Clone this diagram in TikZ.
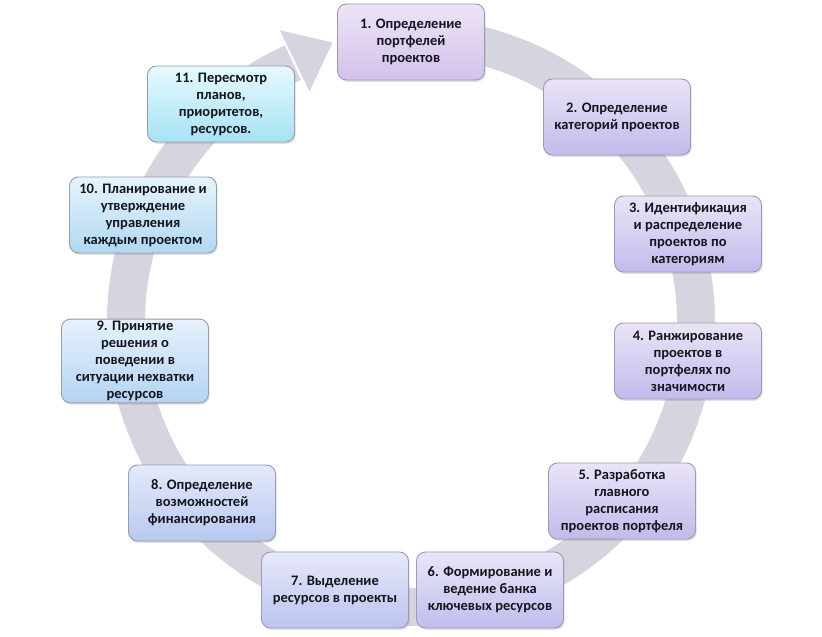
\documentclass[tikz,border=0pt]{standalone}
\usepackage{fontspec}
\setmainfont{Carlito}
\usetikzlibrary{calc,shadows}
\definecolor{ringgray}{HTML}{D6D4DF}
\definecolor{boxline}{HTML}{9C9AAE}
\definecolor{txt}{HTML}{15151E}
\definecolor{t1}{HTML}{EEE4F6}\definecolor{b1}{HTML}{D2C2EA}
\definecolor{tp}{HTML}{EAE4F7}\definecolor{bp}{HTML}{C4BAEC}
\definecolor{t6}{HTML}{E8E6F8}\definecolor{b6}{HTML}{C0BEEE}
\definecolor{t7}{HTML}{E6E8FA}\definecolor{b7}{HTML}{BCC4F0}
\definecolor{t8}{HTML}{E4EAFA}\definecolor{b8}{HTML}{B8C8F0}
\definecolor{t9}{HTML}{E6F2FC}\definecolor{b9}{HTML}{B4D4F2}
\definecolor{t10}{HTML}{E6F4FC}\definecolor{b10}{HTML}{B0D8F2}
\definecolor{t11}{HTML}{E6FAFD}\definecolor{b11}{HTML}{A6E2F4}
\tikzset{
  stagebox/.style={draw=boxline, line width=0.9pt, rounded corners=9pt,
    minimum width=147pt, minimum height=76pt, align=center,
    text=txt, font=\fontsize{14.5}{17}\selectfont\bfseries, inner sep=2pt,
    drop shadow={opacity=0.25, shadow xshift=1.2pt, shadow yshift=-1.8pt}},
  shade/.style 2 args={top color=#1, bottom color=#2},
}
\begin{document}
\begin{tikzpicture}[x=1pt,y=1pt]
\useasboundingbox (0,0) rectangle (822,637);
\fill[white] (0,0) rectangle (822,637);
% ring
\coordinate (c) at (411,315);
\draw[ringgray, line width=38pt] ([shift={(c)}]88:285) arc (88:-245.5:285);
\coordinate (B) at ([shift={(c)}]114:285);
\fill[ringgray] ($(B)+(116:35)$) -- ($(B)+(27:42)$) -- ($(B)+(-64:33)$) -- cycle;
% boxes
\node[stagebox, shade={t1}{b1}] (n1) at (411,595) {1. Определение\\портфелей\\проектов};
\node[stagebox, shade={tp}{bp}] (n2) at (617,520) {2. Определение\\категорий проектов};
\node[stagebox, shade={tp}{bp}] (n3) at (688,403) {3. Идентификация\\и распределение\\проектов по\\категориям};
\node[stagebox, shade={tp}{bp}] (n4) at (688,276) {4. Ранжирование\\проектов в\\портфелях по\\значимости};
\node[stagebox, shade={tp}{bp}] (n5) at (622,136) {5. Разработка\\главного\\расписания\\проектов портфеля};
\node[stagebox, shade={t6}{b6}] (n6) at (490,47) {6. Формирование и\\ведение банка\\ключевых ресурсов};
\node[stagebox, shade={t7}{b7}] (n7) at (335,47) {7. Выделение\\ресурсов в проекты};
\node[stagebox, shade={t8}{b8}] (n8) at (202,134) {8. Определение\\возможностей\\финансирования};
\node[stagebox, shade={t9}{b9}] (n9) at (135,276) {9. Принятие\\решения о\\поведении в\\ситуации нехватки\\ресурсов};
\node[stagebox, shade={t10}{b10}] (n10) at (143,422) {10. Планирование и\\утверждение\\управления\\каждым проектом};
\node[stagebox, shade={t11}{b11}] (n11) at (221,533) {11. Пересмотр\\планов,\\приоритетов,\\ресурсов.};
\end{tikzpicture}
\end{document}
